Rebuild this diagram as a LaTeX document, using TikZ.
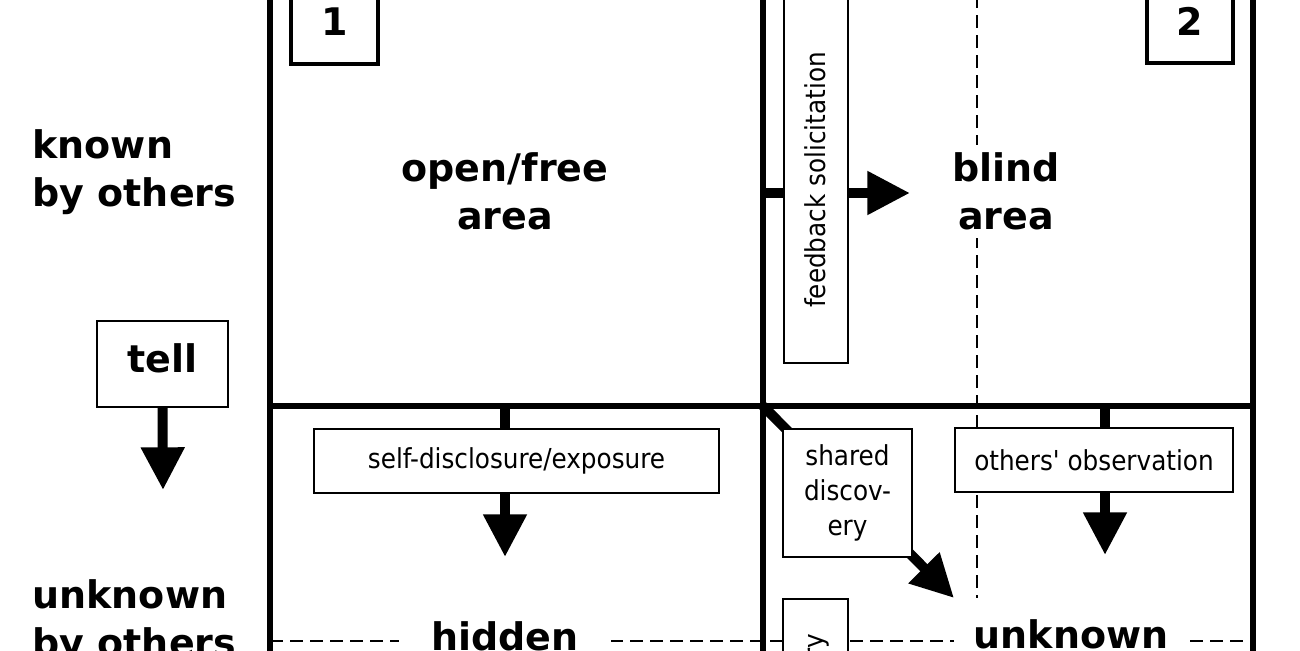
\documentclass[tikz,border=0pt]{standalone}
\usepackage{fontspec}
\setmainfont{DejaVu Sans}
\newfontfamily\labelfont{DejaVu Sans Condensed}
\usetikzlibrary{arrows.meta,backgrounds}

\tikzset{every picture/.style={line width=0.75pt}}
\tikzset{
  bigtext/.style={font=\bfseries\fontsize{28.5}{36}\selectfont},
  side/.style={bigtext, align=left, inner sep=0pt, anchor=north west},
  area/.style={bigtext, align=center, fill=white, inner xsep=6pt, inner ysep=6pt},
  numbox/.style={bigtext, draw, line width=3pt, fill=white},
  tellbox/.style={bigtext, draw, line width=1.5pt, fill=white, minimum width=98.25pt, minimum height=64.5pt, text depth=9pt},
  labelbox/.style={draw, line width=1.5pt, fill=white, font=\labelfont\fontsize{20.6}{26}\selectfont, align=center, inner sep=0pt},
  border/.style={line width=4.2pt},
  splitline/.style={line width=2.2pt, dash pattern=on 9.5pt off 5.5pt},
  bigarrow/.style={line width=7.5pt, -{Triangle[width=31pt,length=32pt]}},
}

\begin{document}
\begin{tikzpicture}[x=0.75pt,y=0.75pt,yscale=-1,xscale=1]
\useasboundingbox (0,0) rectangle (1300,650);

% side labels
\node [side] (known) at (32,129) {known\\by others};
\node [side] (unknownside) at (32,579) {unknown\\by others};
\node [tellbox] (tell) at (162.5,364) {tell};

% quadrant titles
\node [numbox, minimum width=65.25pt, minimum height=63pt] (one) at (334.5,22) {1};
\node [numbox, minimum width=64.5pt, minimum height=62.25pt] (two) at (1190,21.5) {2};
\node [area, anchor=north] (open) at (505,144) {open/free\\area};
\node [area, anchor=north] (blind) at (1006,144) {blind\\area};
\node [area, anchor=base, inner xsep=24pt] (hidden) at (505,650) {hidden};
\node [area, anchor=base, inner xsep=15pt] (unknown) at (1071,648) {unknown};

% process boxes
\node [labelbox, rotate=90, minimum width=274.5pt, minimum height=48pt] (feedback) at (815.5,180) {feedback solicitation};
\node [labelbox, minimum width=303.75pt, minimum height=48pt] (disclose) at (516.5,461) {self-disclosure/exposure};
\node [labelbox, minimum width=96.75pt, minimum height=96pt] (shared) at (847.5,493) {shared\\discov-\\ery};
\node [labelbox, minimum width=208.5pt, minimum height=48pt] (observe) at (1094,460) {others\textquotesingle{} observation};
\node [labelbox, rotate=90, minimum width=180pt, minimum height=48.75pt] (selfdisc) at (815.5,719) {self-discovery};

\begin{scope}[on background layer]
\coordinate (ctr) at (763,406);
\coordinate (tellTip) at (163,490);
\coordinate (fbStart) at (763,193);
\coordinate (fbTip) at (910,193);
\coordinate (sdStart) at (505,406);
\coordinate (sdTip) at (505,557);
\coordinate (ooStart) at (1105,406);
\coordinate (ooTip) at (1105,555);
\coordinate (shTip) at (954,598);

% window frame
\draw [border] (270,-5) -- (270,655);
\draw [border] (763,-5) -- (763,655);
\draw [border] (1253,-5) -- (1253,655);
\draw [border] (270,406) -- (1253,406);
\draw [splitline] (270,641) -- (1253,641);
\draw [splitline] (977,-5) -- (977,598);

% arrows
\draw [bigarrow] (tell.south) -- (tellTip);
\draw [bigarrow] (fbStart) -- (fbTip);
\draw [bigarrow] (sdStart) -- (sdTip);
\draw [bigarrow] (ooStart) -- (ooTip);
\draw [bigarrow] (ctr) -- (shTip);
\end{scope}

\end{tikzpicture}
\end{document}
